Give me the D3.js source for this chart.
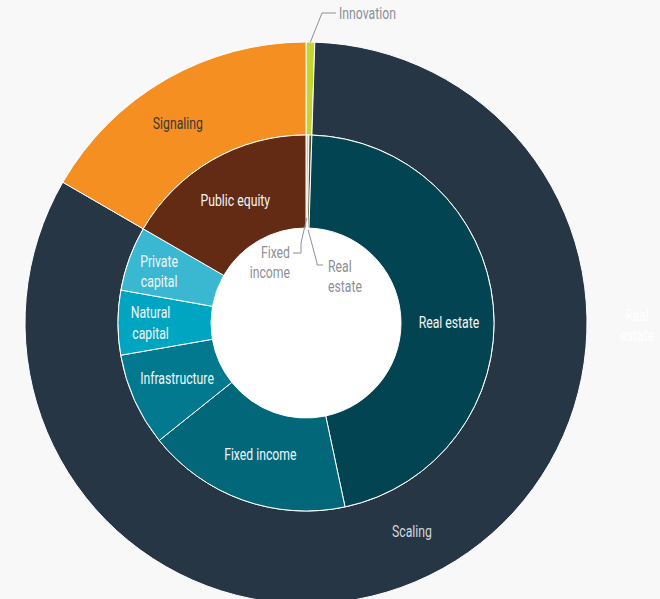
<!DOCTYPE html>
<html><head><meta charset="utf-8">
<script src="https://cdn.jsdelivr.net/npm/d3@7"></script>
<style>
html,body{margin:0;padding:0;background:#f8f8f8;overflow:hidden}
svg{display:block}
text{font-family:"Roboto","Liberation Sans",sans-serif;}
</style></head><body>
<svg id="c" width="660" height="599"></svg>
<script>
// Outer ring: strategies
const categories = ["Innovation", "Scaling", "Signaling"];
const categoryColors = ["#c5d52f", "#263645", "#f68f22"];
const categoryTextColors = ["#8c9099", "#d4d8dc", "#3a3a3a"];

// Inner ring: asset classes (in angular order, grouped by parent)
const assetLabels = ["Fixed income", "Real estate", "Real estate", "Fixed income", "Infrastructure", "Natural capital", "Private capital", "Public equity"];
const assetParent = [0, 0, 1, 1, 1, 1, 1, 2];
const assetValues = [0.25, 0.25, 46.2, 17.6, 8.0, 5.55, 5.55, 16.66];
const assetColors = ["#d9c3ad", "#4a5422", "#024452", "#03677a", "#03798f", "#00a6c1", "#3ab8d2", "#632a14"];

const W = 660, H = 599;
const cx = 306, cy = 323;
const rHole = 95, rMid = 188, rOut = 281;
const SX = 0.72; // horizontal condensing of labels

const svg = d3.select("#c");
svg.append("rect").attr("width", W).attr("height", H).attr("fill", "#f8f8f8");
const g = svg.append("g").attr("transform", `translate(${cx},${cy})`);

const catValues = categories.map((c, i) => d3.sum(assetValues.filter((v, j) => assetParent[j] === i)));

const pie = d3.pie().sort(null).value(d => d.v);
const outerArcs = pie(categories.map((c, i) => ({name: c, v: catValues[i], i})));
const innerArcs = pie(assetLabels.map((c, i) => ({name: c, v: assetValues[i], i})));

const arcOuter = d3.arc().innerRadius(rMid).outerRadius(rOut);
const arcInner = d3.arc().innerRadius(rHole).outerRadius(rMid);

g.append("circle").attr("r", rHole).attr("fill", "#ffffff");

g.selectAll("path.o").data(outerArcs).join("path")
  .attr("d", arcOuter).attr("fill", d => categoryColors[d.data.i])
  .attr("stroke", "#fff").attr("stroke-width", 1);
g.selectAll("path.i").data(innerArcs).join("path")
  .attr("d", arcInner).attr("fill", d => assetColors[d.data.i])
  .attr("stroke", "#fff").attr("stroke-width", 1);

function label(x, y, lines, anchor, color, size) {
  const t = g.append("text").attr("transform", `translate(${x},${y}) scale(${SX},1)`)
    .attr("text-anchor", anchor).attr("dominant-baseline", "central")
    .attr("font-size", size).attr("fill", color);
  const n = lines.length, lh = 1.2;
  lines.forEach((l, k) => {
    t.append("tspan").attr("x", 0).attr("dy", k === 0 ? (-(n - 1) / 2 * lh) + "em" : lh + "em").text(l);
  });
  return t;
}
function split(name) {
  return (name === "Natural capital" || name === "Private capital") ? name.split(" ") : [name];
}

const fs = 17;
// Outer labels
outerArcs.forEach(d => {
  if (d.data.i === 0) return;
  const [x, y] = arcOuter.centroid(d);
  const dx = d.data.i === 1 ? -8 : -11;
  label(x + dx, y + 3, [d.data.name], "middle", categoryTextColors[d.data.i], fs);
});

// Inner labels (large slices)
innerArcs.forEach(d => {
  if (assetParent[d.data.i] === 0) return;
  const [x, y] = arcInner.centroid(d);
  const lines = split(d.data.name);
  let dx = lines.length > 1 ? -14 : 0;
  let dy = 0;
  if (d.data.i === 2) { dx = 2; dy = 12; }
  if (d.data.i === 3) { dx = 2; dy = -2; }
  if (d.data.i === 4) { dy = -3; }
  if (d.data.i === 6) { dy = -3; }
  label(x + dx, y + dy, lines, "middle", "#f2f6f7", fs);
});

// Callouts for tiny slices
const grey = "#8c9099";
function callout(angle, r0, pts, anchor, tx, ty, lines) {
  const p0 = [r0 * Math.sin(angle), -r0 * Math.cos(angle)];
  g.append("path").attr("d", d3.line()([p0].concat(pts))).attr("fill", "none").attr("stroke", grey).attr("stroke-width", 1);
  label(tx, ty, lines, anchor, grey, fs);
}
const innov = outerArcs[0];
callout((innov.startAngle + innov.endAngle) / 2, rOut, [[16, -310], [30, -310]], "start", 33, -310, ["Innovation"]);

const fi = innerArcs[0], re = innerArcs[1];
callout((fi.startAngle + fi.endAngle) / 2, 105, [[-5, -80], [-5, -70], [-13, -70]], "end", -16, -61, ["Fixed", "income"]);
callout((re.startAngle + re.endAngle) / 2, 93, [[11, -60], [11, -58], [17, -58]], "start", 22, -47, ["Real", "estate"]);

// Hidden (white) label at right edge
label(331, 2, ["Real", "estate"], "middle", "#ffffff", fs);
</script>
</body></html>
